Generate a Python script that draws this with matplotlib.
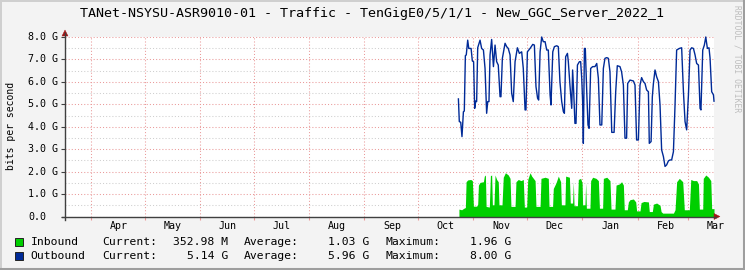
import datetime as dt
import matplotlib
matplotlib.use("Agg")
import matplotlib.pyplot as plt
import matplotlib.dates as mdates
from matplotlib.patches import Rectangle, Polygon
from matplotlib.lines import Line2D
from matplotlib.transforms import blended_transform_factory

# ---------------- data (days since 2022-10-01, values in Gbit/s) ----------------
base_date = dt.datetime(2022, 10, 1)

out_days = [22.6, 23.1, 23.9, 24.6, 25.4, 25.9, 26.5, 27.0, 27.8, 28.4, 29.7, 30.4, 31.1, 31.7,
            32.3, 32.8, 33.4, 34.7, 35.6, 36.6, 37.5, 38.4, 39.0, 39.7, 40.3, 41.2, 42.2, 43.1,
            44.0, 44.9, 45.9, 46.4, 47.2, 48.7, 49.6, 50.5, 51.5, 52.4, 53.3, 54.3, 55.6, 56.7,
            58.0, 58.9, 59.9, 60.4, 61.2, 62.7, 64.2, 65.1, 66.0, 66.9, 67.5, 68.3, 69.2, 70.1,
            71.1, 72.0, 72.9, 73.9, 74.4, 75.4, 76.3, 77.6, 78.5, 79.4, 80.4, 81.3, 81.9, 82.6,
            83.6, 84.1, 85.0, 86.0, 86.5, 87.1, 87.8, 88.4, 89.2, 90.3, 91.0, 91.6, 92.1, 92.5,
            93.1, 93.6, 94.4, 95.1, 95.7, 96.6, 97.7, 99.0, 100.0, 100.9, 101.8, 102.8, 103.7,
            104.6, 105.6, 106.5, 107.4, 108.4, 109.7, 110.6, 111.5, 113.0, 113.9, 114.9, 115.8,
            116.7, 117.3, 118.6, 120.5, 121.4, 122.3, 123.3, 124.2, 125.1, 126.1, 127.0, 127.9,
            128.9, 129.4, 130.4, 131.1, 131.7, 132.6, 133.5, 134.5, 135.4, 136.3, 137.3, 138.2,
            139.1, 140.1, 141.0, 141.9, 142.9, 143.8, 144.7, 146.2, 147.5, 148.5, 149.4, 150.3,
            151.3, 152.2, 153.1, 154.1, 155.0, 155.9, 156.9, 157.8, 158.3, 159.3, 160.2, 161.0,
            161.9, 162.8, 163.4, 164.3, 165.3, 165.6]
out_vals = [5.24, 4.23, 4.20, 3.56, 4.67, 4.70, 7.17, 7.20, 7.86, 7.49, 7.49, 6.93, 6.90, 4.82,
            5.15, 5.12, 7.52, 7.86, 7.49, 7.42, 6.60, 4.60, 5.12, 5.12, 7.20, 7.89, 6.68, 7.64,
            6.90, 6.75, 5.34, 5.34, 7.05, 7.72, 7.57, 7.49, 7.20, 5.49, 5.12, 6.90, 7.52, 7.27,
            7.34, 6.60, 4.75, 4.75, 7.34, 7.49, 7.67, 7.64, 5.79, 5.27, 5.19, 7.34, 8.00, 7.79,
            7.79, 7.42, 7.42, 5.42, 4.97, 7.34, 7.57, 7.61, 7.57, 6.01, 5.12, 4.68, 4.60, 7.12,
            7.27, 6.90, 5.86, 4.82, 6.53, 5.56, 4.15, 4.15, 6.75, 6.90, 6.90, 6.16, 5.12, 3.26,
            7.49, 7.49, 5.56, 4.08, 3.93, 6.60, 6.68, 6.68, 6.82, 6.16, 4.08, 4.08, 6.60,
            7.05, 7.08, 7.05, 6.45, 3.75, 3.75, 5.56, 6.72, 6.68, 6.45, 5.86, 3.49,
            3.49, 5.93, 6.08, 6.04, 5.86, 3.41, 3.41, 5.86, 6.19, 6.01, 5.93, 5.64,
            5.56, 3.26, 3.34, 5.34, 5.93, 6.53, 6.23, 6.01, 4.97, 2.97, 2.67, 2.23,
            2.30, 2.48, 2.52, 2.52, 2.89, 4.97, 7.42, 7.49, 7.52, 5.56, 4.23, 3.86,
            5.42, 7.42, 7.52, 7.49, 7.20, 6.82, 6.75, 4.82, 4.75, 7.42, 7.64, 8.00,
            7.49, 7.52, 7.05, 5.56, 5.42, 5.14]

in_days = [22.9, 24.4, 25.7, 26.5, 26.9, 27.8, 29.5, 30.4, 31.0, 32.8, 33.4, 33.8, 34.7, 36.6,
           37.1, 37.7, 38.1, 39.9, 40.5, 41.2, 41.6, 42.5, 43.1, 44.0, 44.9, 45.3, 47.0, 47.7,
           48.9, 50.5, 51.5, 52.0, 54.3, 54.8, 56.1, 57.6, 58.9, 59.5, 60.8, 61.4, 62.7, 63.6,
           65.5, 66.0, 68.3, 68.8, 71.1, 72.9, 73.3, 75.3, 75.7, 77.2, 78.5, 79.8, 80.2, 82.2,
           82.6, 84.7, 85.2, 86.5, 86.9, 87.3, 89.2, 89.7, 91.0, 91.8, 92.1, 93.4, 93.8, 94.2,
           96.2, 96.6, 97.7, 99.6, 100.9, 101.5, 103.3, 103.7, 105.6, 107.4, 108.0, 110.2,
           110.8, 112.6, 113.9, 114.9, 115.4, 117.1, 117.7, 118.6, 120.5, 121.8, 122.3, 124.2,
           124.8, 126.4, 128.9, 129.4, 131.1, 131.7, 133.5, 135.4, 136.0, 136.9, 142.9, 143.8,
           144.7, 146.2, 148.1, 149.0, 151.8, 152.6, 154.1, 155.9, 156.9, 157.4, 159.3, 159.6,
           161.0, 162.5, 163.8, 164.3, 165.6]
in_vals = [0.33, 0.30, 0.37, 0.40, 1.55, 1.63, 1.65, 1.60, 0.46, 0.46, 0.55, 1.40, 1.52, 1.55,
           1.80, 1.85, 0.45, 0.42, 1.82, 1.85, 0.52, 0.52, 1.85, 1.65, 1.55, 0.52, 0.52, 1.75,
           1.95, 1.85, 1.70, 0.45, 0.45, 1.55, 1.65, 1.60, 1.65, 0.42, 0.42, 1.65, 1.95, 1.80,
           1.60, 0.45, 0.45, 1.70, 1.75, 1.70, 0.45, 0.45, 1.25, 1.50, 1.80, 1.55, 0.52, 0.52,
           1.80, 1.75, 0.60, 0.60, 1.55, 0.48, 0.48, 1.65, 1.70, 1.50, 0.52, 0.52, 1.50, 0.37,
           0.37, 1.60, 1.75, 1.70, 1.60, 0.37, 0.37, 1.70, 1.75, 1.60, 0.33, 0.33,
           1.40, 1.45, 1.55, 1.40, 0.30, 0.30, 0.65, 0.75, 0.78, 0.65, 0.25, 0.25,
           0.62, 0.67, 0.65, 0.22, 0.22, 0.55, 0.60, 0.50, 0.22, 0.15, 0.15, 0.30,
           1.55, 1.70, 1.55, 0.30, 0.30, 1.65, 1.60, 1.60, 1.45, 0.33, 0.33, 1.70,
           1.85, 1.75, 1.60, 0.35, 0.35]

month_names = ["Apr", "May", "Jun", "Jul", "Aug", "Sep", "Oct", "Nov", "Dec", "Jan", "Feb", "Mar"]
month_starts = ["2022-04-01", "2022-05-01", "2022-06-01", "2022-07-01", "2022-08-01", "2022-09-01",
                "2022-10-01", "2022-11-01", "2022-12-01", "2023-01-01", "2023-02-01", "2023-03-01"]
y_ticks = [0, 1, 2, 3, 4, 5, 6, 7, 8]
y_labels = ["0.0", "1.0 G", "2.0 G", "3.0 G", "4.0 G", "5.0 G", "6.0 G", "7.0 G", "8.0 G"]

title = "TANet-NSYSU-ASR9010-01 - Traffic - TenGigE0/5/1/1 - New_GGC_Server_2022_1"
series_names = ["Inbound", "Outbound"]
current_vals = ["352.98 M", "5.14 G"]
average_vals = ["1.03 G", "5.96 G"]
maximum_vals = ["1.96 G", "8.00 G"]

# ---------------- styling ----------------
W, H = 745, 270
BACK = "#F3F3F3"
GREEN = "#00CF00"
BLUE = "#002A97"
MGRID = "#EA9A9A"
GRID = "#CFCFCF"
AXIS = "#404040"
ARROW = "#A01818"
MONO = "DejaVu Sans Mono"

plt.rcParams["font.family"] = MONO


def fx(x):
    return x / W


def fy(y):
    return 1 - y / H


fig = plt.figure(figsize=(W / 100, H / 100), dpi=100, facecolor=BACK)

# 3D frame
fig.add_artist(Rectangle((0, 0), 1, 1, transform=fig.transFigure, facecolor="none",
                         edgecolor="none"))
fig.add_artist(Line2D([fx(0.5), fx(0.5)], [fy(0), fy(H)], transform=fig.transFigure,
                      color="#CFCFCF", lw=1.4))
fig.add_artist(Line2D([fx(0), fx(W)], [fy(0.5), fy(0.5)], transform=fig.transFigure,
                      color="#CFCFCF", lw=1.4))
fig.add_artist(Line2D([fx(W - 1.5), fx(W - 1.5)], [fy(0), fy(H)], transform=fig.transFigure,
                      color="#9E9E9E", lw=2.2))
fig.add_artist(Line2D([fx(0), fx(W)], [fy(H - 1.5), fy(H - 1.5)], transform=fig.transFigure,
                      color="#9E9E9E", lw=2.2))

left_px, right_px, top_px, bot_px = 65, 714, 37, 216.5
ax = fig.add_axes([fx(left_px), fy(bot_px), (right_px - left_px) / W, (bot_px - top_px) / H])
ax.set_facecolor("white")
for s in ax.spines.values():
    s.set_visible(False)

to_num = lambda d: mdates.date2num(base_date + dt.timedelta(days=d))
ox = [to_num(d) for d in out_days]
ix = [to_num(d) for d in in_days]

x0 = mdates.date2num(dt.datetime(2022, 3, 17, 12))
x1 = to_num(165.6)
ax.set_xlim(x0, x1)
ax.set_ylim(0, 8.0)

# grid
for k in range(17):
    v = k * 0.5
    if k % 2 == 0:
        ax.axhline(v, color=MGRID, lw=0.75, ls=(0, (1, 2)), zorder=1)
    else:
        ax.axhline(v, color=GRID, lw=0.75, ls=(0, (1, 2)), zorder=1)
ms_num = [mdates.date2num(dt.datetime.strptime(m, "%Y-%m-%d")) for m in month_starts]
for m in ms_num:
    ax.axvline(m, color=MGRID, lw=0.75, ls=(0, (1, 2)), zorder=1)

# data
ax.fill_between(ix, 0, in_vals, color=GREEN, lw=0, zorder=2)
ax.plot(ox, out_vals, color=BLUE, lw=1.0, zorder=3, clip_on=False)

# ticks
ax.set_yticks(y_ticks)
ax.set_xticks(ms_num)
ax.tick_params(axis="y", length=3, width=0.8, color=AXIS, labelleft=False)
ax.tick_params(axis="x", length=2.5, width=0.8, color=MGRID, labelbottom=False)

# tick labels
ty = blended_transform_factory(fig.transFigure, ax.transData)
for v, lab in zip(y_ticks, y_labels):
    ax.text(fx(28), v, lab, transform=ty, ha="left", va="center", fontsize=7.2, color="black")
tx = blended_transform_factory(ax.transData, fig.transFigure)
for m, name in zip(ms_num, month_names):
    ax.text(m + 15.5, fy(226), name, transform=tx, ha="center", va="center", fontsize=7.2,
            color="black")

# axes lines + arrows
fig.add_artist(Line2D([fx(left_px), fx(left_px)], [fy(219.5), fy(33)], transform=fig.transFigure,
                      color=AXIS, lw=1.0))
fig.add_artist(Line2D([fx(62), fx(716)], [fy(bot_px), fy(bot_px)], transform=fig.transFigure,
                      color=AXIS, lw=1.0))
fig.add_artist(Polygon([[fx(left_px - 3), fy(36)], [fx(left_px + 3), fy(36)], [fx(left_px), fy(30)]],
                       closed=True, transform=fig.transFigure, facecolor=ARROW, edgecolor=ARROW, lw=0.3))
fig.add_artist(Polygon([[fx(714), fy(bot_px - 3)], [fx(714), fy(bot_px + 3)], [fx(720), fy(bot_px)]],
                       closed=True, transform=fig.transFigure, facecolor=ARROW, edgecolor=ARROW, lw=0.3))

# title & labels
fig.text(0.5, fy(14), title, ha="center", va="center", fontsize=9.6, color="black")
fig.text(fx(11), fy(126), "bits per second", rotation=90, ha="center", va="center",
         fontsize=7.0, color="black")
fig.text(fx(737), fy(59), "RRDTOOL / TOBI OETIKER", rotation=270, ha="center", va="center",
         fontsize=5.8, color="#BDBDBD")

# legend
row_y = [242, 256]
for i, (name, col) in enumerate(zip(series_names, [GREEN, BLUE])):
    y = row_y[i]
    fig.add_artist(Rectangle((fx(15), fy(y + 4)), 8 / W, 8 / H, transform=fig.transFigure,
                             facecolor=col, edgecolor="#222222", lw=0.7))
    fs = 8.2
    fig.text(fx(30.5), fy(y), name, ha="left", va="center", fontsize=fs)
    fig.text(fx(102), fy(y), "Current:", ha="left", va="center", fontsize=fs)
    fig.text(fx(228), fy(y), current_vals[i], ha="right", va="center", fontsize=fs)
    fig.text(fx(244), fy(y), "Average:", ha="left", va="center", fontsize=fs)
    fig.text(fx(369), fy(y), average_vals[i], ha="right", va="center", fontsize=fs)
    fig.text(fx(386), fy(y), "Maximum:", ha="left", va="center", fontsize=fs)
    fig.text(fx(511), fy(y), maximum_vals[i], ha="right", va="center", fontsize=fs)

fig.savefig("out.png", dpi=100, facecolor=BACK)
